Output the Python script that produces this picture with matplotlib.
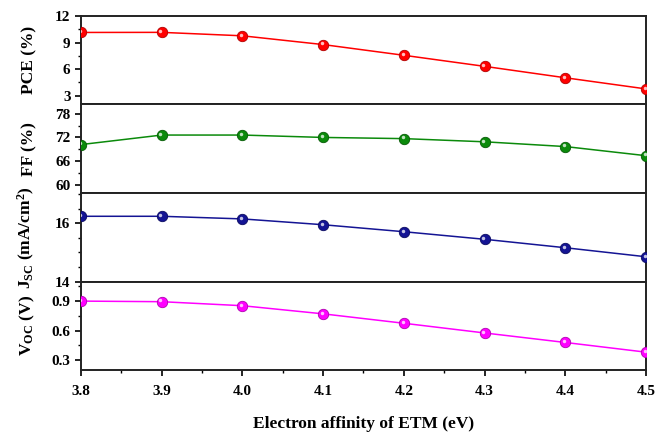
import matplotlib
matplotlib.use('Agg')
import matplotlib.pyplot as plt
import matplotlib.transforms as mtransforms
from matplotlib.ticker import MultipleLocator

plt.rcParams['font.family'] = 'Liberation Serif'
plt.rcParams['font.weight'] = 'bold'
plt.rcParams['mathtext.fontset'] = 'custom'
plt.rcParams['mathtext.rm'] = 'Liberation Serif:bold'
plt.rcParams['mathtext.bf'] = 'Liberation Serif:bold'
plt.rcParams['mathtext.it'] = 'Liberation Serif:bold'

# electron affinity of ETM (eV)
ea = [3.8, 3.9, 4.0, 4.1, 4.2, 4.3, 4.4, 4.5]

pce = [10.14, 10.15, 9.76, 8.77, 7.56, 6.31, 5.02, 3.76]
ff = [70.2, 72.6, 72.6, 72.0, 71.7, 70.9, 69.7, 67.4]
jsc = [16.24, 16.24, 16.15, 15.95, 15.71, 15.45, 15.16, 14.85]
voc = [0.900, 0.894, 0.853, 0.770, 0.674, 0.575, 0.478, 0.379]

labels = ['PCE (%)', 'FF (%)', r'J$_{\mathrm{SC}}$ (mA/cm$^{\mathrm{2}}$)', r'V$_{\mathrm{OC}}$ (V)']
colors = ['#ff0000', '#0b8a0b', '#141494', '#ff00ff']
edges = ['#b00000', '#055a05', '#0a0a60', '#b000b0']
ylims = [(2, 12), (58, 80.3), (14, 17.04), (0.197, 1.1)]
minors = [1.5, 3, 0.5, 0.15]
yticks = [[3, 6, 9, 12], [60, 66, 72, 78], [14, 16], [0.3, 0.6, 0.9]]
ytl = [['3', '6', '9', '12'], ['60', '66', '72', '78'], ['14', '16'], ['0.3', '0.6', '0.9']]
series = [pce, ff, jsc, voc]

fig, axes = plt.subplots(4, 1, sharex=True, figsize=(6.67, 4.32), dpi=100,
                         gridspec_kw={'hspace': 0})
fig.subplots_adjust(left=0.1214, right=0.9685, bottom=0.1435, top=0.963)

for i, ax in enumerate(axes):
    y = series[i]
    ax.plot(ea, y, '-', color=colors[i], lw=1.1, marker='o', ms=7.5,
            mfc=colors[i], mec=edges[i], mew=0.6, zorder=3)
    hl = mtransforms.offset_copy(ax.transData, fig=fig, x=-1.2, y=1.2, units='dots')
    ax.plot(ea, y, 'o', ms=2.5, color='white', alpha=0.75, mew=0,
            transform=hl, zorder=4)
    ax.set_ylim(*ylims[i])
    ax.set_yticks(yticks[i])
    ax.set_yticklabels(ytl[i])
    ax.yaxis.set_minor_locator(MultipleLocator(minors[i]))
    ax.set_ylabel(labels[i], fontsize=12.5, fontweight='bold')
    ax.yaxis.set_label_coords(-0.078, 0.5)
    for s in ax.spines.values():
        s.set_linewidth(1.4)
        s.set_color('#222222')
    ax.tick_params(axis='y', which='major', direction='out', length=4, width=1.2, labelsize=11)
    ax.tick_params(axis='y', which='minor', direction='out', length=2.5, width=1.0)
    ax.tick_params(axis='x', which='both', bottom=(i == 3), direction='out')

ax = axes[-1]
ax.set_xlim(3.8, 4.5)
ax.set_xticks(ea)
ax.set_xticklabels(['%.1f' % v for v in ea])
ax.xaxis.set_minor_locator(MultipleLocator(0.05))
ax.tick_params(axis='x', which='major', length=4, width=1.2, labelsize=11, pad=7)
ax.tick_params(axis='x', which='minor', length=2.5, width=1.0)
ax.set_xlabel('Electron affinity of ETM (eV)', fontsize=12.5, fontweight='bold', labelpad=13)

fig.savefig('out.png', dpi=100)
